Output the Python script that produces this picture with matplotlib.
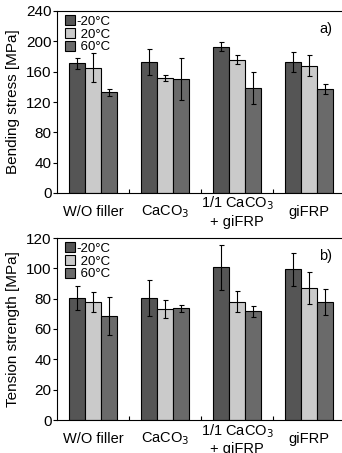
import numpy as np
import matplotlib.pyplot as plt

plt.rcParams['font.family'] = ['Liberation Sans', 'DejaVu Sans']

grupos = ['W/O filler', 'CaCO$_3$', '1/1 CaCO$_3$\n+ giFRP', 'giFRP']
series = ['-20\u00b0C', ' 20\u00b0C', ' 60\u00b0C']
colores = ['#555555', '#cacaca', '#6a6a6a']

# bending stress [MPa]
flex_m20 = [171, 173, 193, 173]
flex_20 = [165, 152, 176, 168]
flex_60 = [133, 150, 138, 137]
flex_err_m20 = [7, 17, 6, 13]
flex_err_20 = [19, 4, 6, 14]
flex_err_60 = [4.5, 28, 21, 7]

# tension strength [MPa]
tens_m20 = [80.4, 80.4, 100.7, 99.3]
tens_20 = [78, 73, 78, 87.2]
tens_60 = [68.7, 73.6, 71.6, 77.8]
tens_err_m20 = [8, 12, 15, 11]
tens_err_20 = [6.5, 6, 7, 10.5]
tens_err_60 = [12.5, 2.5, 3.5, 8.5]


def panel(ax, vals, errs, ymax, paso, ylabel, letra):
    x = np.arange(len(grupos))
    w = 0.225
    for i, (v, e) in enumerate(zip(vals, errs)):
        ax.bar(x + (i - 1) * w, v, w, color=colores[i], edgecolor='black',
               linewidth=0.8, label=series[i],
               yerr=e, error_kw=dict(ecolor='black', elinewidth=0.8,
                                     capsize=1.8, capthick=0.8))
    ax.set_xlim(-0.5, 3.46)
    ax.set_ylim(0, ymax)
    ax.set_yticks(np.arange(0, ymax + 1, paso))
    ax.set_xticks(x)
    ax.set_xticklabels(grupos, fontsize=10.5, va='center')
    ax.set_xticks([0.5, 1.5, 2.5], minor=True)
    ax.tick_params(axis='x', which='major', length=0, pad=13.5)
    ax.tick_params(axis='x', which='minor', direction='in', length=3, width=0.8)
    ax.tick_params(axis='y', direction='out', length=3, width=0.8, labelsize=11,
                   pad=1)
    ax.spines['right'].set_visible(False)
    for s in ['left', 'bottom', 'top']:
        ax.spines[s].set_linewidth(0.8)
    ax.set_ylabel(ylabel, fontsize=11, labelpad=4)
    ax.text(0.965, 0.9, letra, transform=ax.transAxes, ha='right', va='center',
            fontsize=10.5)
    ax.legend(loc='upper left', fontsize=9.5, frameon=False, handlelength=0.8,
              handleheight=0.8, handletextpad=0.1, labelspacing=0.0,
              borderaxespad=0.2, bbox_to_anchor=(0.0, 1.02))


fig = plt.figure(figsize=(3.42, 4.53), dpi=100)
ax1 = fig.add_axes([57 / 342, 1 - 193 / 453, 1 - 57 / 342, 182 / 453])
ax2 = fig.add_axes([57 / 342, 1 - 420 / 453, 1 - 57 / 342, 182 / 453])

panel(ax1, [flex_m20, flex_20, flex_60], [flex_err_m20, flex_err_20, flex_err_60],
      240, 40, 'Bending stress [MPa]', 'a)')
panel(ax2, [tens_m20, tens_20, tens_60], [tens_err_m20, tens_err_20, tens_err_60],
      120, 20, 'Tension strength [MPa]', 'b)')

fig.savefig('out.png', dpi=100)
